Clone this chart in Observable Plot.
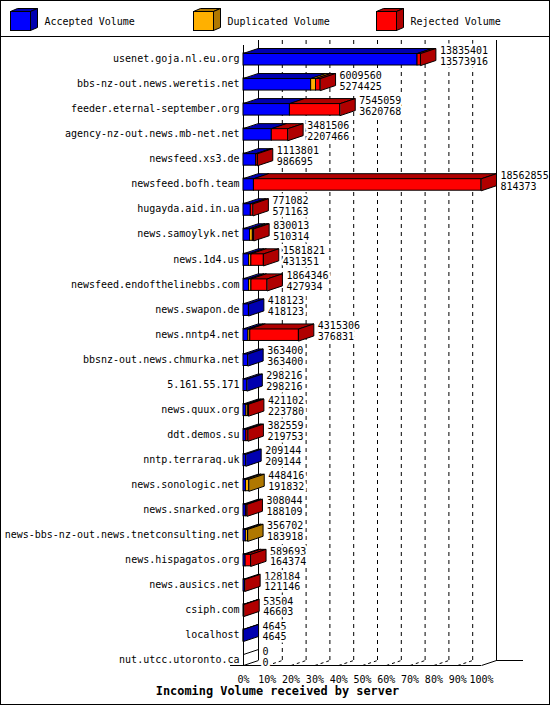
<!DOCTYPE html>
<html><head><meta charset="utf-8">
<script src="https://cdn.jsdelivr.net/npm/d3@7"></script>
<script src="https://cdn.jsdelivr.net/npm/@observablehq/plot@0.6"></script>
<style>
html,body{margin:0;padding:0;background:#fff;}
#chart{width:550px;height:705px;box-sizing:border-box;border:1px solid #000;background:#fff;font-family:"DejaVu Sans Mono",monospace;overflow:hidden;}
#legend{height:35px;border-bottom:1px solid #000;}
#legend svg,#plot svg{display:block;}
#title{height:20px;line-height:14px;text-align:center;font-weight:bold;font-size:11.9px;padding-left:5px;box-sizing:border-box;color:#000;}
</style></head><body>
<div id="chart"><div id="legend"></div><div id="plot"></div><div id="title"></div></div>
<script>
const servers = [
  "usenet.goja.nl.eu.org","bbs-nz-out.news.weretis.net","feeder.eternal-september.org",
  "agency-nz-out.news.mb-net.net","newsfeed.xs3.de","newsfeed.bofh.team","hugayda.aid.in.ua",
  "news.samoylyk.net","news.1d4.us","newsfeed.endofthelinebbs.com","news.swapon.de",
  "news.nntp4.net","bbsnz-out.news.chmurka.net","5.161.55.171","news.quux.org","ddt.demos.su",
  "nntp.terraraq.uk","news.sonologic.net","news.snarked.org","news-bbs-nz-out.news.tnetconsulting.net",
  "news.hispagatos.org","news.ausics.net","csiph.com","localhost","nut.utcc.utoronto.ca"
];
const totalVolume = [13835401,6009560,7545059,3481506,1113801,18562855,771082,830013,1581821,1864346,
  418123,4315306,363400,298216,421102,382559,209144,448416,308044,356702,589693,128184,53504,4645,0];
const acceptedVolume = [13573916,5274425,3620768,2207466,986695,814373,571163,510314,431351,427934,
  418123,376831,363400,298216,223780,219753,209144,191832,188109,183918,164374,121146,46603,4645,0];
const duplicatedVolume = [0,380000,0,0,0,0,0,220000,180000,190000,
  0,150000,0,0,150000,0,0,256584,0,172784,0,0,0,0,0];
const seriesNames = ["Accepted Volume","Duplicated Volume","Rejected Volume"];
const seriesColors = ["#0000ff","#ffb000","#ff0000"];
const seriesShades = ["#0000b0","#b07800","#b00000"];
const tickPercents = [0,10,20,30,40,50,60,70,80,90,100];
const chartTitle = "Incoming Volume received by server";

// ---- legend ----
const lg = d3.select("#legend").append("svg").attr("width",548).attr("height",35);
seriesNames.forEach((name,k)=>{
  const x0 = 9.5 + k*183, y0 = 10.5, w = 20, h = 19, dx = 7, dy = 3;
  const g = lg.append("g").attr("transform",`translate(${x0},${y0})`);
  g.append("polygon").attr("points",`0,0 ${w},0 ${w+dx},${-dy} ${dx},${-dy}`)
    .attr("fill",seriesShades[k]).attr("stroke","#000");
  g.append("polygon").attr("points",`${w},0 ${w+dx},${-dy} ${w+dx},${h-dy} ${w},${h}`)
    .attr("fill",seriesShades[k]).attr("stroke","#000");
  g.append("rect").attr("width",w).attr("height",h).attr("fill",seriesColors[k]).attr("stroke","#000");
  lg.append("text").attr("x",x0+34).attr("y",20.4).attr("dominant-baseline","central")
    .attr("font-family","DejaVu Sans Mono").attr("font-size",10).attr("fill","#000").text(name);
});
d3.select("#title").text(chartTitle);

// ---- geometry ----
const W = 548, H = 647;
const mTop = 8, mBottom = 19, mLeft = 242, mRight = 68;
const maxV = d3.max(totalVolume);
const plotW = W - mLeft - mRight, plotH = H - mTop - mBottom;
const ROW = 25.04;
const yA = -13/ROW, yB = (servers.length-1) + 6/ROW;
const kx = maxV/plotW, ky = (yB - yA)/plotH;
const Dx = 15*kx, Dy = 5*ky;
const fTop = i => i - 5*ky, fBot = i => i + 7*ky;

const segs = [];
servers.forEach((s,i)=>{
  const vals = [acceptedVolume[i], duplicatedVolume[i], totalVolume[i]-acceptedVolume[i]-duplicatedVolume[i]];
  let x0 = 0;
  vals.forEach((v,k)=>{ if (v>0) segs.push({i,k,x1:x0,x2:x0+v}); x0 += v; });
});
const lastSegs = d3.groups(segs, d=>d.i).map(([i,arr])=>arr[arr.length-1]);
const topVerts = [], sideVerts = [];
segs.forEach((d,n)=>{
  const t = fTop(d.i), f = seriesShades[d.k];
  [[d.x1,t],[d.x2,t],[d.x2+Dx,t-Dy],[d.x1+Dx,t-Dy]].forEach(([x,y])=>topVerts.push({x,y,id:n,f}));
});
lastSegs.forEach((d,n)=>{
  const t = fTop(d.i), b = fBot(d.i), f = seriesShades[d.k];
  [[d.x2,t],[d.x2+Dx,t-Dy],[d.x2+Dx,b-Dy],[d.x2,b]].forEach(([x,y])=>sideVerts.push({x,y,id:n,f}));
});
const zeroRows = servers.map((s,i)=>i).filter(i=>totalVolume[i]===0);
const idx = servers.map((s,i)=>i);

const plot = Plot.plot({
  width: W, height: H,
  marginTop: mTop, marginBottom: mBottom, marginLeft: mLeft, marginRight: mRight,
  x: {domain:[0,maxV], axis:null},
  y: {domain:[yA,yB], reverse:true, axis:null},
  color: {type:"identity"},
  style: {fontFamily:"DejaVu Sans Mono", fontSize:"10px", background:"transparent", color:"#000", overflow:"visible"},
  marks: [
    Plot.ruleX(tickPercents.filter(p=>p>0&&p<100), {x:p=>p/100*maxV, dx:15, dy:-5, strokeDasharray:"4,4", stroke:"#000"}),
    Plot.ruleX([0, maxV], {dx:15, dy:-5, stroke:"#000"}),
    Plot.ruleX([0], {stroke:"#000"}),
    Plot.ruleY([yB], {x1:-13*kx, x2:maxV, stroke:"#000"}),
    Plot.link(tickPercents.filter(p=>p===0||p===100), {x1:p=>p/100*maxV, y1:yB, x2:p=>p/100*maxV+Dx, y2:yB-Dy, stroke:"#000"}),
    Plot.link(tickPercents.filter(p=>p>0&&p<100), {x1:p=>p/100*maxV, y1:yB, x2:p=>p/100*maxV+Dx, y2:yB-Dy, stroke:"#000", strokeDasharray:"3,3"}),
    Plot.ruleY([yB-Dy], {x1:maxV+Dx, x2:maxV+42*kx, stroke:"#000"}),
    Plot.link(zeroRows, {x1:0, y1:i=>fTop(i), x2:Dx, y2:i=>fTop(i)-Dy, stroke:"#000"}),
    Plot.rect(segs, {x1:"x1", x2:"x2", y1:d=>fTop(d.i), y2:d=>fBot(d.i), fill:d=>seriesColors[d.k], stroke:"#000", strokeWidth:1}),
    Plot.line(topVerts, {x:"x", y:"y", z:"id", fill:"f", stroke:"#000", strokeWidth:1, curve:"linear-closed"}),
    Plot.line(sideVerts, {x:"x", y:"y", z:"id", fill:"f", stroke:"#000", strokeWidth:1, curve:"linear-closed"}),
    Plot.text(idx, {x:0, y:i=>i, text:i=>servers[i], textAnchor:"end", dx:-4, dy:0.5, fill:"#000"}),
    Plot.text(idx, {x:i=>totalVolume[i], y:i=>i, text:i=>String(totalVolume[i]), textAnchor:"start", dx:19, dy:-8, fill:"#000", stroke:"#fff", strokeWidth:5, paintOrder:"stroke"}),
    Plot.text(idx, {x:i=>totalVolume[i], y:i=>i, text:i=>String(acceptedVolume[i]), textAnchor:"start", dx:19, dy:2.8, fill:"#000", stroke:"#fff", strokeWidth:5, paintOrder:"stroke"}),
    Plot.text(tickPercents, {x:p=>p/100*maxV, y:yB, text:p=>p+"%", dy:14, fill:"#000"})
  ]
});
document.getElementById("plot").appendChild(plot);
</script>
</body></html>
